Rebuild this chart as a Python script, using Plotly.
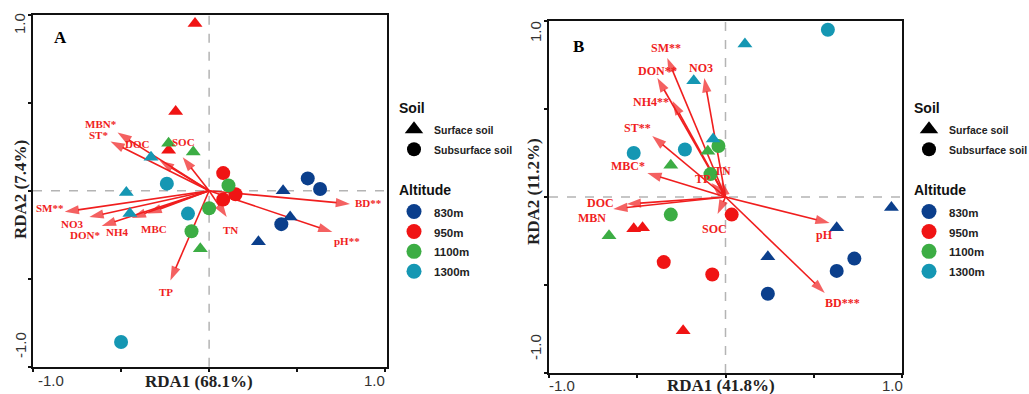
import plotly.graph_objects as go

# ---------------- data ----------------
altitudes = ["830m", "950m", "1100m", "1300m"]
alt_colors = {"830m": "#0b3f8c", "950m": "#f01414", "1100m": "#3cad44", "1300m": "#1597b3"}

# Panel A sample scores (RDA1, RDA2)
A_surface_x = {"830m": [0.42, 0.46, 0.28], "950m": [-0.08, -0.19, -0.23],
               "1100m": [-0.23, -0.09, -0.05], "1300m": [-0.33, -0.47, -0.45]}
A_surface_y = {"830m": [0.00, -0.15, -0.29], "950m": [0.95, 0.45, 0.23],
               "1100m": [0.27, 0.22, -0.33], "1300m": [0.19, -0.01, -0.13]}
A_subsurface_x = {"830m": [0.56, 0.63, 0.41], "950m": [0.08, 0.15, 0.08],
                  "1100m": [0.11, 0.00, -0.10], "1300m": [-0.24, -0.12, -0.50]}
A_subsurface_y = {"830m": [0.07, 0.01, -0.19], "950m": [0.10, -0.02, -0.05],
                  "1100m": [0.03, -0.10, -0.23], "1300m": [0.04, -0.13, -0.86]}

# Panel B sample scores
B_surface_x = {"830m": [0.94, 0.63, 0.24], "950m": [-0.52, -0.47, -0.24],
               "1100m": [-0.10, -0.31, -0.66], "1300m": [0.11, -0.18, -0.07]}
B_surface_y = {"830m": [-0.06, -0.175, -0.34], "950m": [-0.18, -0.175, -0.76],
               "1100m": [0.26, 0.18, -0.22], "1300m": [0.87, 0.66, 0.33]}
B_subsurface_x = {"830m": [0.73, 0.63, 0.24], "950m": [0.035, -0.35, -0.075],
                  "1100m": [-0.04, -0.085, -0.31], "1300m": [0.58, -0.52, -0.23]}
B_subsurface_y = {"830m": [-0.35, -0.42, -0.55], "950m": [-0.10, -0.37, -0.44],
                  "1100m": [0.29, 0.13, -0.10], "1300m": [0.95, 0.25, 0.27]}

# Environmental vectors
A_vec_names = ["MBN*", "ST*", "DOC", "SOC", "SM**", "NO3", "DON*", "NH4", "MBC", "TN", "TP", "BD**", "pH**"]
A_vec_x = [-0.52, -0.56, -0.28, -0.15, -0.82, -0.68, -0.61, -0.44, -0.35, 0.10, -0.22, 0.80, 0.70]
A_vec_y = [0.33, 0.28, 0.17, 0.19, -0.12, -0.15, -0.20, -0.155, -0.13, -0.15, -0.51, -0.075, -0.235]

B_vec_names = ["SM**", "DON**", "NO3", "NH4**", "ST**", "MBC*", "TP", "TN", "DOC", "MBN", "SOC", "pH", "BD***"]
B_vec_x = [-0.33, -0.386, -0.12, -0.30, -0.415, -0.443, -0.08, -0.02, -0.56, -0.636, -0.045, 0.59, 0.5625]
B_vec_y = [0.79, 0.676, 0.676, 0.545, 0.347, 0.136, 0.08, 0.09, -0.04, -0.068, -0.097, -0.148, -0.545]

# label pixel offsets (dx right, dy down) relative to arrow tips -- styling only
A_lab_off = [(-17, -9), (-12, -6), (-22, -17), (1, -15), (-15, -4), (-17, 7), (-17, 9),
             (-14, 14), (7, 15), (4, 13), (-4, 12), (18, -1), (15, 9)]
B_lab_off = [(-1, -10), (0, -7), (-3, -10), (-22, 1), (-15, -8), (-19, -7), (-9, -4),
             (1, -10), (-26, -1), (-21, 9), (-3, 15), (-5, 12), (18, 10)]

axis_titles = {"A": ("RDA1 (68.1%)", "RDA2 (7.4%)"), "B": ("RDA1 (41.8%)", "RDA2 (11.2%)")}
tick_text = ["-1.0", "1.0"]
soil_names = ["Surface soil", "Subsurface soil"]

# ---------------- figure ----------------
W, H = 1029, 394
def px(x):
    return x / W
def py(y):
    return 1 - y / H

fig = go.Figure()
ARROW = "#f01e1e"
SERIF = "Liberation Serif"
SANS = "Liberation Sans"

def small(t, s):
    return '<span style="font-size:%spx">%s</span>' % (s, t)

panels = {
    "A": dict(xa="x", ya="y", vx=A_vec_x, vy=A_vec_y, vn=A_vec_names, off=A_lab_off,
              sx=A_surface_x, sy=A_surface_y, cx=A_subsurface_x, cy=A_subsurface_y, leg="legend"),
    "B": dict(xa="x2", ya="y2", vx=B_vec_x, vy=B_vec_y, vn=B_vec_names, off=B_lab_off,
              sx=B_surface_x, sy=B_surface_y, cx=B_subsurface_x, cy=B_subsurface_y, leg="legend2"),
}

annotations = []
shapes = []
for key, p in panels.items():
    # arrows (below markers)
    for name, vx, vy in zip(p["vn"], p["vx"], p["vy"]):
        fig.add_trace(go.Scatter(
            x=[0, vx], y=[0, vy], xaxis=p["xa"], yaxis=p["ya"], mode="lines+markers",
            line=dict(color=ARROW, width=1.6),
            marker=dict(symbol="arrow", size=[0, 15], angleref="previous", color=ARROW,
                        line=dict(width=0)),
            showlegend=False, hoverinfo="skip"))
    # samples
    for alt in altitudes:
        fig.add_trace(go.Scatter(
            x=p["sx"][alt], y=p["sy"][alt], xaxis=p["xa"], yaxis=p["ya"], mode="markers",
            marker=dict(symbol="triangle-up", size=13, color=alt_colors[alt]),
            showlegend=False, name=alt + " surface"))
        fig.add_trace(go.Scatter(
            x=p["cx"][alt], y=p["cy"][alt], xaxis=p["xa"], yaxis=p["ya"], mode="markers",
            marker=dict(symbol="circle", size=14, color=alt_colors[alt]),
            showlegend=False, name=alt + " subsurface"))
    # vector labels
    lab_size = 11 if key == "A" else 12
    for name, vx, vy, (dx, dy) in zip(p["vn"], p["vx"], p["vy"], p["off"]):
        annotations.append(dict(
            x=vx, y=vy, xref=p["xa"], yref=p["ya"], text=name, showarrow=False,
            xanchor="center", yanchor="middle",
            xshift=dx, yshift=-dy, font=dict(family=SERIF, size=lab_size, color=ARROW, weight="bold")))
    # dashed zero lines
    shapes.append(dict(type="line", xref=p["xa"], yref=p["ya"] + " domain", x0=0, x1=0, y0=0, y1=1,
                       line=dict(color="#b4b4b4", width=1.5, dash="dash"), layer="below"))
    shapes.append(dict(type="line", xref=p["xa"] + " domain", yref=p["ya"], x0=0, x1=1, y0=0, y1=0,
                       line=dict(color="#b4b4b4", width=1.5, dash="dash"), layer="below"))
    # legend entries
    gt_font = dict(family=SANS, size=18, weight="bold", color="#111111")
    fig.add_trace(go.Scatter(x=[None], y=[None], xaxis=p["xa"], yaxis=p["ya"], mode="markers",
                             marker=dict(symbol="triangle-up", size=16, color="black"),
                             name=small(soil_names[0], 10.5), legend=p["leg"], legendgroup="soil",
                             legendgrouptitle=dict(text=small("Soil", 14), font=gt_font)))
    fig.add_trace(go.Scatter(x=[None], y=[None], xaxis=p["xa"], yaxis=p["ya"], mode="markers",
                             marker=dict(symbol="circle", size=14, color="black"),
                             name=small(soil_names[1], 10.5), legend=p["leg"], legendgroup="soil"))
    for i, alt in enumerate(altitudes):
        fig.add_trace(go.Scatter(x=[None], y=[None], xaxis=p["xa"], yaxis=p["ya"], mode="markers",
                                 marker=dict(symbol="circle", size=15, color=alt_colors[alt]),
                                 name=small(alt, 11.5), legend=p["leg"], legendgroup="alt",
                                 legendgrouptitle=dict(text=small("Altitude", 14), font=gt_font) if i == 0 else None))

# panel letters
annotations.append(dict(x=px(60), y=py(37), xref="paper", yref="paper", text="A", showarrow=False,
                        xanchor="center", yanchor="middle",
                        font=dict(family=SERIF, size=17, weight="bold", color="black")))
annotations.append(dict(x=px(578), y=py(47), xref="paper", yref="paper", text="B", showarrow=False,
                        xanchor="center", yanchor="middle",
                        font=dict(family=SERIF, size=17, weight="bold", color="black")))

# axis titles and end tick labels
tickfont = dict(family=SANS, size=15, color="#333333")
titlefont = dict(family=SERIF, size=17, weight="bold", color="#222222")
layout_pos = {
    "A": dict(xt=(199, 381), yt=(20, 190), xl=[(51, 380), (374, 380)], yl=[(20, 345), (20, 24)]),
    "B": dict(xt=(721, 385), yt=(533, 192), xl=[(562, 385), (892, 385)], yl=[(535, 347), (535, 32)]),
}
for key, lp in layout_pos.items():
    xtitle, ytitle = axis_titles[key]
    annotations.append(dict(x=px(lp["xt"][0]), y=py(lp["xt"][1]), xref="paper", yref="paper",
                            xanchor="center", yanchor="middle",
                            text=xtitle, showarrow=False, font=titlefont))
    annotations.append(dict(x=px(lp["yt"][0]), y=py(lp["yt"][1]), xref="paper", yref="paper",
                            xanchor="center", yanchor="middle",
                            text=ytitle, showarrow=False, font=titlefont, textangle=-90))
    for t, (xx, yy) in zip(tick_text, lp["xl"]):
        annotations.append(dict(x=px(xx), y=py(yy), xref="paper", yref="paper", text=t,
                                xanchor="center", yanchor="middle",
                                showarrow=False, font=tickfont))
    for t, (xx, yy) in zip(tick_text, lp["yl"]):
        annotations.append(dict(x=px(xx), y=py(yy), xref="paper", yref="paper", text=t,
                                xanchor="center", yanchor="middle",
                                showarrow=False, font=tickfont, textangle=-90))

axis_common = dict(showgrid=False, zeroline=False, showline=True, mirror=True, linecolor="#111111",
                   linewidth=1.6, ticks="outside", ticklen=3, tickwidth=1.5, tickcolor="#111111",
                   tickvals=[-1, -0.5, 0, 0.5, 1], showticklabels=False, fixedrange=True)

legend_common = dict(font=dict(family=SANS, size=13, color="#222222", weight="bold"),
                     bgcolor="rgba(0,0,0,0)", traceorder="grouped", tracegroupgap=16,
                     itemsizing="trace", xanchor="left", yanchor="top")

fig.update_layout(
    width=W, height=H, margin=dict(l=0, r=0, t=0, b=0, autoexpand=False), autosize=False,
    paper_bgcolor="white", plot_bgcolor="white",
    xaxis=dict(domain=[px(33), px(387)], range=[-1, 1.01], anchor="y", **axis_common),
    yaxis=dict(domain=[py(366.7), py(14.7)], range=[-1, 1], anchor="x", **axis_common),
    xaxis2=dict(domain=[px(549), px(902)], range=[-1, 1], anchor="y2", **axis_common),
    yaxis2=dict(domain=[py(373), py(21)], range=[-1, 1], anchor="x2", **axis_common),
    legend=dict(x=px(394), y=py(88), **legend_common),
    legend2=dict(x=px(909), y=py(88), **legend_common),
    annotations=annotations, shapes=shapes, showlegend=True,
)

fig.write_html("out.html")
